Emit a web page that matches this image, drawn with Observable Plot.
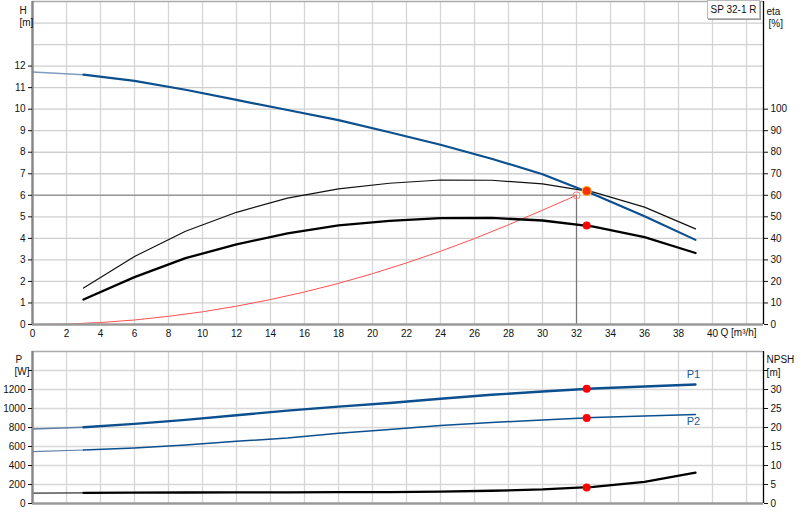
<!DOCTYPE html>
<html>
<head>
<meta charset="utf-8">
<script src="https://cdn.jsdelivr.net/npm/d3@7"></script>
<script src="https://cdn.jsdelivr.net/npm/@observablehq/plot@0.6"></script>
<style>
  html, body { margin: 0; padding: 0; background: white; }
  #wrap { position: relative; width: 800px; height: 520px; overflow: hidden; font-family: "Liberation Sans", Arial, sans-serif; }
  #wrap svg { display: block; }
  #tag { position: absolute; left: 707px; top: 0px; width: 51px; height: 17px; border: 1px solid #bbb; box-shadow: 1px 1px 0 #999; background: white; font-size: 10px; line-height: 17px; text-align: center; color: #111; }
</style>
</head>
<body>
<div id="wrap"><div id="tag">SP 32-1 R</div></div>
<script>
// ---- data ----
const Q = [0, 3, 6, 9, 12, 15, 18, 21, 24, 27, 30, 33, 36, 39];
const H = [11.73, 11.60, 11.31, 10.90, 10.43, 9.96, 9.49, 8.93, 8.35, 7.70, 6.98, 6.05, 5.03, 3.93];
const etaQ = [3, 6, 9, 12, 15, 18, 21, 24, 27, 30, 33, 36, 39];
const etaPump = [16.9, 31.6, 43.3, 52.1, 58.7, 63.0, 65.6, 67.1, 67.0, 65.3, 61.5, 54.5, 44.4];
const etaTotal = [11.6, 22.0, 30.8, 37.2, 42.3, 46.0, 48.1, 49.4, 49.5, 48.3, 45.5, 40.6, 33.2];
const sysQ = [0, 2, 4, 6, 8, 10, 12, 14, 16, 18, 20, 22, 24, 26, 28, 30, 32];
const sysH = [0, 0.02, 0.09, 0.21, 0.38, 0.59, 0.85, 1.16, 1.51, 1.91, 2.36, 2.86, 3.40, 3.99, 4.63, 5.31, 6.0];
const P1 = [785, 803, 838, 880, 929, 978, 1020, 1058, 1102, 1144, 1179, 1211, 1232, 1253];
const P2 = [546, 563, 585, 616, 654, 690, 739, 778, 820, 852, 880, 905, 922, 936];
const NPSH = [2.75, 2.8, 2.85, 2.9, 2.95, 2.95, 3.0, 3.0, 3.1, 3.35, 3.7, 4.35, 5.7, 8.1];
const duty = {q: 32, h: 6.0};
const op = {q: 32.6, h: 6.2, eta: 46.0, p1: 1207, p2: 901, npsh: 4.22};
const xTicks = d3.range(0, 41, 2);
const hTicks = d3.range(0, 13, 1);
const etaTicks = d3.range(0, 101, 10);
const pTicks = d3.range(0, 1401, 200);
const npshTicks = d3.range(0, 36, 5);

// ---- tables ----
const curve = Q.map((q, i) => ({q, h: H[i], p1: P1[i], p2: P2[i], npsh: NPSH[i]}));
const eta = etaQ.map((q, i) => ({q, pump: etaPump[i], total: etaTotal[i]}));
const sys = sysQ.map((q, i) => ({q, h: sysH[i]}));
const head = curve.filter(d => d.q <= 3);
const main = curve.filter(d => d.q >= 3);

const XMAX = 43;
const blue = "#0b4f8e";
const font = "'Liberation Sans', Arial, sans-serif";
const style = {fontFamily: font, fontSize: "10px", color: "#111", background: "white", overflow: "visible"};

const topPlot = Plot.plot({
  width: 800, height: 346, marginLeft: 32, marginRight: 37, marginTop: 1, marginBottom: 22,
  x: {domain: [0, XMAX]}, y: {domain: [0, 15]},
  style,
  marks: [
    Plot.gridX(d3.range(2, 43, 2), {stroke: "#d6d6d6", strokeOpacity: 1, strokeWidth: 1.3}),
    Plot.gridY(d3.range(1, 15), {stroke: "#cfcfcf", strokeOpacity: 1, strokeWidth: 1.3}),
    Plot.ruleY([duty.h], {x1: 0, x2: duty.q, stroke: "#999", strokeWidth: 1.6}),
    Plot.ruleX([duty.q], {y1: 0, y2: duty.h, stroke: "#777", strokeWidth: 1.2}),
    Plot.line(sys, {x: "q", y: "h", stroke: "#ff5050", strokeWidth: 1}),
    Plot.line(eta, {x: "q", y: d => d.pump / 10, stroke: "#111", strokeWidth: 1.2}),
    Plot.line(eta, {x: "q", y: d => d.total / 10, stroke: "#000", strokeWidth: 2.3}),
    Plot.line(head, {x: "q", y: "h", stroke: "#7f9cc0", strokeWidth: 1.5}),
    Plot.line(main, {x: "q", y: "h", stroke: blue, strokeWidth: 2.2}),
    Plot.dot([duty], {x: "q", y: "h", r: 3.5, stroke: "#ff8080", strokeWidth: 1, fill: "none"}),
    Plot.dot([op], {x: "q", y: d => d.eta / 10, r: 4, fill: "#ff0000"}),
    Plot.dot([op], {x: "q", y: "h", r: 4.5, fill: "#ff3000", stroke: "#ffb020", strokeWidth: 1.2}),
    Plot.ruleY([15], {stroke: "#aaa", strokeWidth: 1.5}),
    Plot.ruleY([0], {stroke: "#999", strokeWidth: 2.5}),
    Plot.ruleX([0], {stroke: "#888", strokeWidth: 2.5}),
    Plot.ruleX([XMAX], {stroke: "#000", strokeWidth: 1.3}),
    Plot.axisX({ticks: xTicks, tickSize: 0, tickPadding: 5, label: null, tickFormat: d => String(d)}),
    Plot.axisY({ticks: hTicks, tickSize: 4, tickPadding: 3, label: null, tickFormat: d => String(d)}),
    Plot.axisY({anchor: "right", ticks: etaTicks.map(v => v / 10), tickSize: 4, tickPadding: 3, label: null, tickFormat: d => String(Math.round(d * 10))}),
    Plot.text(["Q [m³/h]"], {x: 40, frameAnchor: "bottom", dy: 11, dx: 8, textAnchor: "start", text: d => d, fill: "#111"}),
    Plot.text(["H"], {frameAnchor: "top-left", dx: -13, dy: 5, text: d => d, fill: "#111"}),
    Plot.text(["[m]"], {frameAnchor: "top-left", dx: -13, dy: 17, text: d => d, fill: "#111"}),
    Plot.text(["eta"], {frameAnchor: "top-right", dx: 3, dy: 6, textAnchor: "start", text: d => d, fill: "#111"}),
    Plot.text(["[%]"], {frameAnchor: "top-right", dx: 5, dy: 18, textAnchor: "start", text: d => d, fill: "#111"})
  ]
});

const botPlot = Plot.plot({
  width: 800, height: 174, marginLeft: 32, marginRight: 37, marginTop: 5, marginBottom: 17,
  x: {domain: [0, XMAX], axis: null}, y: {domain: [0, 1600], axis: null},
  style,
  marks: [
    Plot.gridX(d3.range(2, 43, 2), {stroke: "#d6d6d6", strokeOpacity: 1, strokeWidth: 1.3}),
    Plot.gridY(d3.range(200, 1600, 200), {stroke: "#d8d8d8", strokeOpacity: 1, strokeWidth: 1.6}),
    Plot.line(head, {x: "q", y: d => d.npsh * 40, stroke: "#333", strokeWidth: 1.3}),
    Plot.line(main, {x: "q", y: d => d.npsh * 40, stroke: "#000", strokeWidth: 2.3}),
    Plot.line(head, {x: "q", y: "p2", stroke: "#5f7fa8", strokeWidth: 1.2}),
    Plot.line(main, {x: "q", y: "p2", stroke: blue, strokeWidth: 1.5}),
    Plot.line(head, {x: "q", y: "p1", stroke: "#5f7fa8", strokeWidth: 1.5}),
    Plot.line(main, {x: "q", y: "p1", stroke: blue, strokeWidth: 2.4}),
    Plot.dot([op], {x: "q", y: "p1", r: 4, fill: "#ff0000"}),
    Plot.dot([op], {x: "q", y: "p2", r: 4, fill: "#ff0000"}),
    Plot.dot([op], {x: "q", y: d => d.npsh * 40, r: 4, fill: "#ff0000"}),
    Plot.text(main.slice(-1), {x: "q", y: "p1", dy: -10, dx: -2, text: () => "P1", fill: "#1a5a9c", fontSize: 11}),
    Plot.text(main.slice(-1), {x: "q", y: "p2", dy: 7, dx: -2, text: () => "P2", fill: "#1a5a9c", fontSize: 11}),
    Plot.ruleY([1600], {stroke: "#aaa", strokeWidth: 1.5}),
    Plot.ruleY([0], {stroke: "#999", strokeWidth: 2.5}),
    Plot.ruleX([0], {stroke: "#888", strokeWidth: 2.5}),
    Plot.ruleX([XMAX], {stroke: "#000", strokeWidth: 1.3}),
    Plot.axisY({ticks: pTicks, tickSize: 4, tickPadding: 3, label: null, tickFormat: d => d <= 1200 ? String(d) : ""}),
    Plot.axisY({anchor: "right", ticks: npshTicks.map(v => v * 40), tickSize: 4, tickPadding: 3, label: null, tickFormat: d => d / 40 <= 30 ? String(d / 40) : ""}),
    Plot.text(["P"], {frameAnchor: "top-left", dx: -17, dy: 4, text: d => d, fill: "#111"}),
    Plot.text(["[W]"], {frameAnchor: "top-left", dx: -18, dy: 16, text: d => d, fill: "#111"}),
    Plot.text(["NPSH"], {frameAnchor: "top-right", dx: 3, dy: 4, textAnchor: "start", text: d => d, fill: "#111"}),
    Plot.text(["[m]"], {frameAnchor: "top-right", dx: 17, dy: 17, text: d => d, fill: "#111"})
  ]
});

const wrap = document.getElementById("wrap");
wrap.insertBefore(botPlot, wrap.firstChild);
wrap.insertBefore(topPlot, wrap.firstChild);
</script>
</body>
</html>
